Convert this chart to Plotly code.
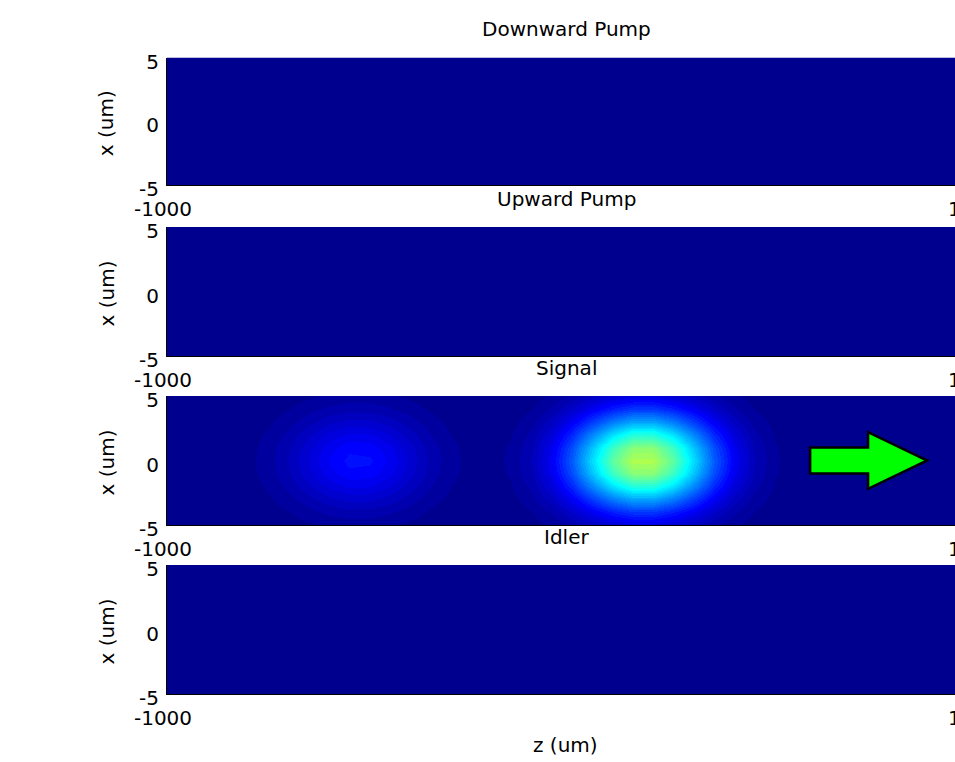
import numpy as np
import plotly.graph_objects as go

# ---------------- data ----------------
z_um = list(range(-1000, 1001, 50))          # propagation axis samples
x_um = [-5, -4, -3, -2, -1, 0, 1, 2, 3, 4, 5]  # transverse axis samples

panel_titles = ["Downward Pump", "Upward Pump", "Signal", "Idler"]
x_tick_vals = [-1000]
x_tick_text = ["-1000"]
x_right_label = "1000"
y_tick_vals = [-5, 0, 5]
y_tick_text = ["-5", "0", "5"]

# signal intensity along z at x = 0 (fraction of colour range)
signal_z_profile = [0.0000, 0.0003, 0.0011, 0.0038, 0.0105, 0.0246, 0.0484, 0.0801,
                    0.1114, 0.1302, 0.1279, 0.1057, 0.0734, 0.0429, 0.0210, 0.0104,
                    0.0091, 0.0196, 0.0491, 0.1088, 0.2064, 0.3336, 0.4594, 0.5391,
                    0.5391, 0.4594, 0.3336, 0.2064, 0.1088, 0.0489, 0.0187, 0.0061,
                    0.0017, 0.0004, 0.0, 0.0, 0.0, 0.0, 0.0, 0.0, 0.0]
# transverse mode profile (relative)
signal_x_profile = [0.164, 0.314, 0.521, 0.748, 0.930, 1.0, 0.930, 0.748, 0.521, 0.314, 0.164]

# pumps and idler are empty in this frame
downward_pump_z_profile = [0.0] * len(z_um)
upward_pump_z_profile = [0.0] * len(z_um)
idler_z_profile = [0.0] * len(z_um)

fields = [
    np.outer(signal_x_profile, downward_pump_z_profile),
    np.outer(signal_x_profile, upward_pump_z_profile),
    np.outer(signal_x_profile, signal_z_profile),
    np.outer(signal_x_profile, idler_z_profile),
]

# ---------------- MATLAB-like jet(64) discrete colour scale ----------------
def jet_row(i, m=64):
    x = i / m
    r = min(max(min(4 * x - 1.5, -4 * x + 4.5), 0), 1)
    g = min(max(min(4 * x - 0.5, -4 * x + 3.5), 0), 1)
    b = min(max(min(4 * x + 0.5, -4 * x + 2.5), 0), 1)
    return "rgb(%d,%d,%d)" % (round(r * 255), round(g * 255), round(b * 255))

jet_scale = []
for k in range(64):
    c = jet_row(k + 1)
    jet_scale.append([k / 64, c])
    jet_scale.append([(k + 1) / 64, c])

# ---------------- layout geometry (pixels) ----------------
W, H = 955, 762
left_px = 167
right_px = 977              # true right edge of the axes (beyond the window)
tops = [57.5, 227, 396, 565]
bottoms = [185, 356, 525, 694]
um_per_px = 2000 / (right_px - left_px)
x_max_visible = -1000 + (W - left_px) * um_per_px

FONT = "DejaVu Sans, Liberation Sans, Arial, sans-serif"
FS = 20

fig = go.Figure()
layout = dict(
    template="none",
    width=W, height=H, autosize=False,
    margin=dict(l=0, r=0, t=0, b=0, pad=0),
    paper_bgcolor="white", plot_bgcolor="white",
    font=dict(family=FONT, size=FS, color="black"),
    showlegend=False,
)
annotations = []
shapes = []

for k in range(4):
    n = "" if k == 0 else str(k + 1)
    fig.add_trace(go.Heatmap(
        x=z_um, y=x_um, z=fields[k],
        zmin=0, zmax=1, colorscale=jet_scale, showscale=False,
        zsmooth="best", xaxis="x" + n, yaxis="y" + n, hoverinfo="skip",
    ))
    ydom = [1 - bottoms[k] / H, 1 - tops[k] / H]
    layout["xaxis" + n] = dict(
        domain=[left_px / W, 1], range=[-1000, x_max_visible], automargin=False,
        tickvals=x_tick_vals, ticktext=x_tick_text, ticks="",
        showgrid=False, zeroline=False, showline=True, linecolor="black",
        linewidth=1, anchor="y" + n, ticklabelstandoff=6, ticklabelshift=-4,
        tickfont=dict(size=FS),
    )
    layout["yaxis" + n] = dict(
        domain=ydom, range=[-5, 5], automargin=False,
        tickvals=y_tick_vals, ticktext=y_tick_text, ticks="",
        showgrid=False, zeroline=False, showline=True, linecolor="black",
        linewidth=1, anchor="x" + n, ticklabelstandoff=3, ticklabelshift=4,
        tickfont=dict(size=FS),
    )
    # title
    annotations.append(dict(
        text=panel_titles[k], xref="paper", yref="paper",
        x=566 / W, y=1 - (tops[k] - 28) / H, xanchor="center", yanchor="middle",
        showarrow=False, font=dict(size=FS),
    ))
    # y axis label
    annotations.append(dict(
        text="x (um)", xref="paper", yref="paper", textangle=-90,
        x=106 / W, y=1 - ((tops[k] + bottoms[k]) / 2 + 2) / H,
        xanchor="center", yanchor="middle", showarrow=False, font=dict(size=FS),
    ))
    # right-hand z tick label, mostly outside the window
    annotations.append(dict(
        text=x_right_label, xref="paper", yref="paper",
        x=(right_px - 4) / W, y=1 - (bottoms[k] + 24) / H,
        xanchor="center", yanchor="middle", showarrow=False, font=dict(size=FS),
    ))

annotations.append(dict(
    text="z (um)", xref="paper", yref="paper", x=565 / W, y=1 - 745 / H,
    xanchor="center", yanchor="middle", showarrow=False, font=dict(size=FS),
))

# green direction arrow in the Signal panel (data coords of x3/y3)
shapes.append(dict(
    type="path", xref="x3", yref="y3",
    path="M 588 1.0 L 731 1.0 L 731 2.2 L 877 0 L 731 -2.2 L 731 -1.0 L 588 -1.0 Z",
    fillcolor="#00ff00", line=dict(color="black", width=2.5),
))

layout["annotations"] = annotations
layout["shapes"] = shapes
fig.update_layout(**layout)
fig.write_html(
    "out.html",
    config={"displayModeBar": False},
    post_script="document.body.style.margin='0';document.body.style.overflow='hidden';",
)
